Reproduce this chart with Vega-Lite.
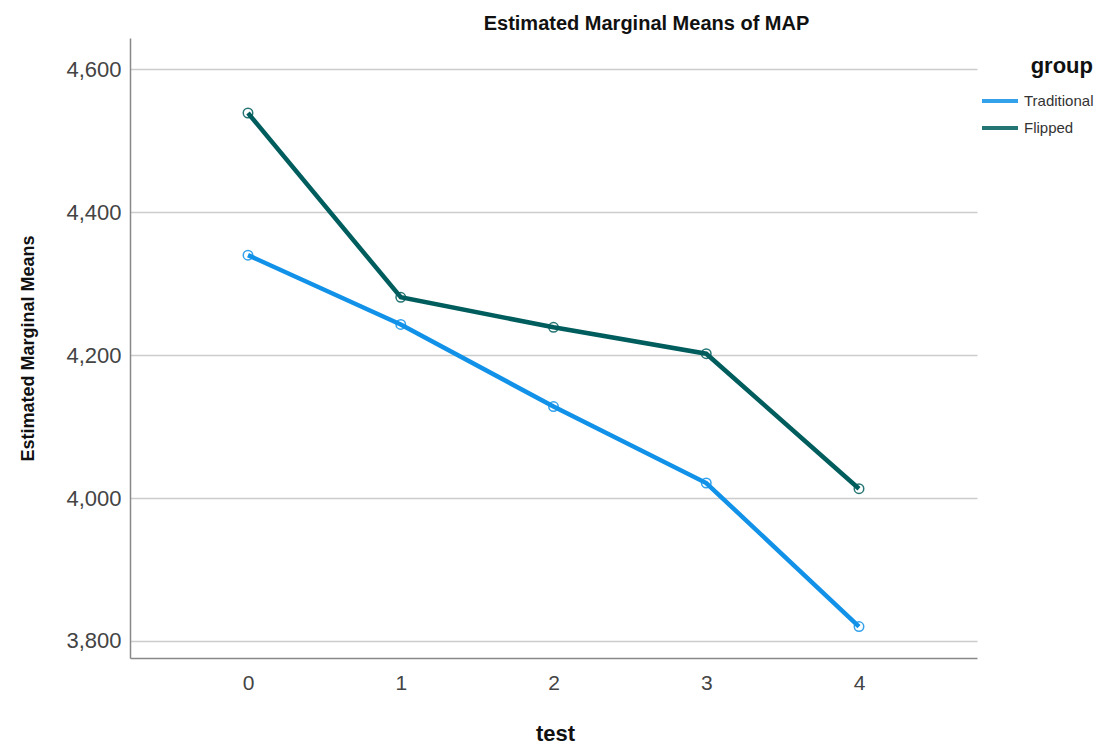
{
  "$schema": "https://vega.github.io/schema/vega-lite/v6.json",
  "width": 847,
  "height": 620,
  "autosize": {"type": "none"},
  "padding": {"left": 130, "top": 38, "right": 142, "bottom": 87},
  "background": "white",
  "view": {"stroke": null},
  "title": {
    "text": "Estimated Marginal Means of MAP",
    "font": "Liberation Sans",
    "fontSize": 20,
    "fontWeight": "bold",
    "color": "#111111",
    "anchor": "middle",
    "frame": "group",
    "dx": 93,
    "offset": 4
  },
  "data": {
    "values": [
      {"test": 0, "group": "Traditional", "mean": 4340},
      {"test": 1, "group": "Traditional", "mean": 4243},
      {"test": 2, "group": "Traditional", "mean": 4128},
      {"test": 3, "group": "Traditional", "mean": 4021},
      {"test": 4, "group": "Traditional", "mean": 3820},
      {"test": 0, "group": "Flipped", "mean": 4539},
      {"test": 1, "group": "Flipped", "mean": 4281},
      {"test": 2, "group": "Flipped", "mean": 4239},
      {"test": 3, "group": "Flipped", "mean": 4202},
      {"test": 4, "group": "Flipped", "mean": 4013}
    ]
  },
  "mark": {
    "type": "line",
    "strokeWidth": 4.5,
    "point": {"filled": false, "size": 90, "strokeWidth": 1.5, "opacity": 0.85}
  },
  "encoding": {
    "x": {
      "field": "test",
      "type": "quantitative",
      "scale": {"domain": [-0.7725, 4.7725], "nice": false, "zero": false},
      "axis": {
        "values": [0, 1, 2, 3, 4],
        "format": "d",
        "title": "test",
        "grid": false,
        "ticks": false,
        "labelPadding": 14,
        "labelFont": "Liberation Sans",
        "labelFontSize": 21,
        "labelColor": "#444444",
        "domainColor": "#888888",
        "domainWidth": 1.5,
        "titleFont": "Liberation Sans",
        "titleFontSize": 22,
        "titleFontWeight": "bold",
        "titleColor": "#111111",
        "titleX": 425,
        "titleY": 75,
        "titleBaseline": "middle",
        "titleAlign": "center"
      }
    },
    "y": {
      "field": "mean",
      "type": "quantitative",
      "scale": {"domain": [3776, 4644], "nice": false, "zero": false},
      "axis": {
        "values": [3800, 4000, 4200, 4400, 4600],
        "format": ",d",
        "title": "Estimated Marginal Means",
        "grid": true,
        "gridColor": "#cccccc",
        "gridWidth": 1.5,
        "ticks": false,
        "labelPadding": 9,
        "labelFont": "Liberation Sans",
        "labelFontSize": 22,
        "labelColor": "#444444",
        "domainColor": "#888888",
        "domainWidth": 1.5,
        "titleFont": "Liberation Sans",
        "titleFontSize": 18,
        "titleFontWeight": "bold",
        "titleColor": "#111111",
        "titleAngle": -90,
        "titleX": -102,
        "titleY": 310,
        "titleBaseline": "middle",
        "titleAlign": "center"
      }
    },
    "color": {
      "field": "group",
      "type": "nominal",
      "sort": ["Traditional", "Flipped"],
      "scale": {"domain": ["Traditional", "Flipped"], "range": ["#1192e8", "#005d5d"]},
      "legend": {
        "orient": "none",
        "legendX": 850,
        "legendY": 18,
        "title": "group",
        "titleFont": "Liberation Sans",
        "titleFontSize": 22,
        "titleFontWeight": "bold",
        "titleColor": "#111111",
        "titleAnchor": "end",
        "titlePadding": 14,
        "symbolType": "stroke",
        "symbolStrokeWidth": 4,
        "symbolSize": 1296,
        "clipHeight": 18,
        "labelFont": "Liberation Sans",
        "labelFontSize": 15,
        "labelColor": "#333333",
        "labelOffset": 4,
        "rowPadding": 9
      }
    }
  }
}
